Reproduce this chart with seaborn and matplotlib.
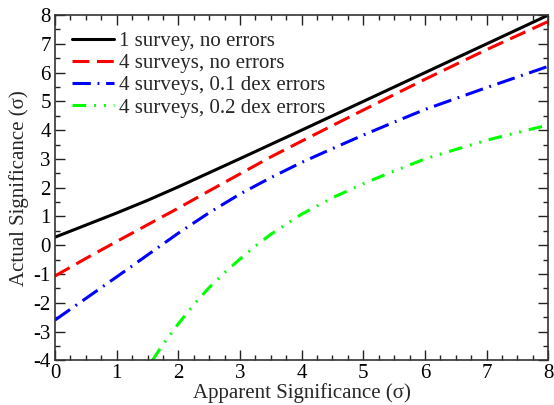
import matplotlib
matplotlib.use("Agg")
import matplotlib.pyplot as plt
import seaborn as sns
import pandas as pd
from matplotlib.ticker import MultipleLocator

sns.set_style("ticks")
plt.rcParams['font.family'] = ['Liberation Serif', 'DejaVu Serif']
plt.rcParams['axes.unicode_minus'] = False

# Data
x_black = [0, 0.5, 1, 1.5, 2, 2.5, 3, 4, 5, 6, 7, 8]
y_black = [0.28, 0.70, 1.12, 1.56, 2.03, 2.52, 3.01, 4.0, 5.0, 6.0, 7.0, 8.0]

x_red = [0, 0.5, 1, 1.5, 2, 2.5, 3, 3.5, 4, 5, 6, 7, 8]
y_red = [-1.07, -0.46, 0.13, 0.71, 1.29, 1.89, 2.48, 3.07, 3.62, 4.7, 5.77, 6.8, 7.78]

x_blue = [0, 0.5, 1, 1.5, 2, 2.5, 3, 3.5, 4, 4.5, 5, 5.5, 6, 6.5, 7, 7.5, 8]
y_blue = [-2.6, -1.85, -1.1, -0.34, 0.42, 1.13, 1.78, 2.35, 2.88, 3.36, 3.83, 4.28, 4.72, 5.1, 5.48, 5.85, 6.22]

x_green = [1.58, 1.75, 2.0, 2.25, 2.5, 2.75, 3.0, 3.25, 3.5, 4.0, 4.5, 5.0, 5.5, 6.0, 6.5, 7.0, 7.5, 8.0]
y_green = [-4.0, -3.45, -2.73, -2.07, -1.47, -0.95, -0.48, -0.03, 0.38, 1.08, 1.65, 2.14, 2.58, 3.0, 3.33, 3.65, 3.92, 4.18]

labels = ["1 survey, no errors", "4 surveys, no errors",
          "4 surveys, 0.1 dex errors", "4 surveys, 0.2 dex errors"]
colors = ["#000000", "#ff0000", "#0000ff", "#00ff00"]
dash_patterns = [None, (5.5, 2.5), (6, 2.2, 0.6, 2.2), (4.5, 2.6, 0.6, 2.6, 0.6, 2.6)]

fig = plt.figure(figsize=(5.54, 4.05), dpi=100)
ax = fig.add_axes([0.0993, 0.1104, 0.8904, 0.8523])

series = [(x_black, y_black), (x_red, y_red), (x_blue, y_blue), (x_green, y_green)]
for (xs, ys), lab, col, dp in zip(series, labels, colors, dash_patterns):
    df = pd.DataFrame({"x": xs, "y": ys})
    sns.lineplot(data=df, x="x", y="y", color=col, label=lab, ax=ax, linewidth=2.2)
    line = ax.get_lines()[-1]
    if dp is not None:
        line.set_dashes(dp)
    line.set_dash_capstyle('butt')

ax.set_xlim(0, 8)
ax.set_ylim(-4, 8)
ax.xaxis.set_major_locator(MultipleLocator(1))
ax.xaxis.set_minor_locator(MultipleLocator(0.25))
ax.yaxis.set_major_locator(MultipleLocator(1))
ax.yaxis.set_minor_locator(MultipleLocator(0.5))
ax.tick_params(which='both', direction='in', top=True, right=True, width=1.0, colors='#222222')
ax.tick_params(which='major', length=7.2, labelsize=15, pad=3, labelcolor='black')
ax.tick_params(which='minor', length=3.6)
for sp in ax.spines.values():
    sp.set_linewidth(1.2)
    sp.set_color('#333333')
    sp.set_visible(True)

ax.set_xlabel("Apparent Significance (σ)", fontsize=15, labelpad=0)
ax.set_ylabel("Actual Significance (σ)", fontsize=15, labelpad=3)

handles, labs = ax.get_legend_handles_labels()
leg = ax.legend(handles, labs, loc='upper left', frameon=False, fontsize=15,
                handlelength=2.0, handletextpad=0.25, labelspacing=0.13,
                borderaxespad=0.0, borderpad=0.0, bbox_to_anchor=(0.0345, 0.953))

fig.savefig("out.png", dpi=100)
